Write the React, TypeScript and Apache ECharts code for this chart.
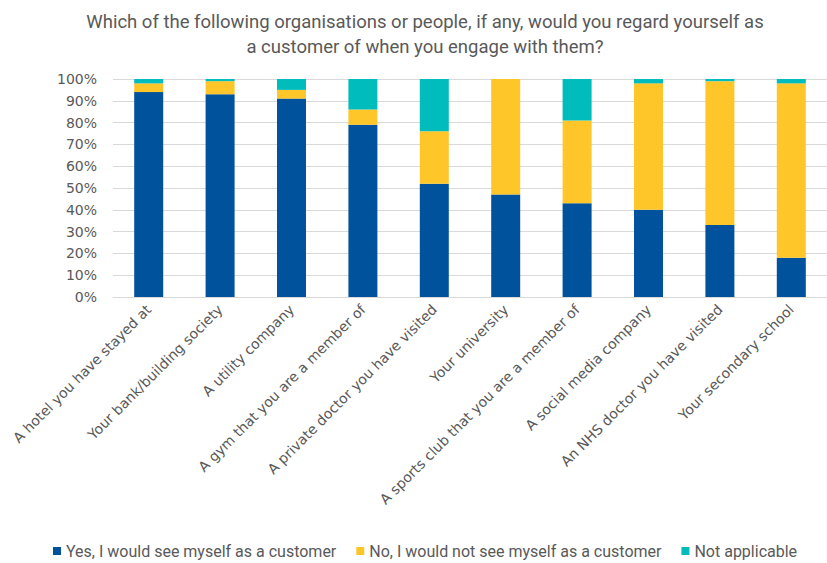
import React, { useEffect, useRef } from "react";
import * as echarts from "echarts";

const categories = [
  "A hotel you have stayed at",
  "Your bank/building society",
  "A utility company",
  "A gym that you are a member of",
  "A private doctor you have visited",
  "Your university",
  "A sports club that you are a member of",
  "A social media company",
  "An NHS doctor you have visited",
  "Your secondary school",
];
const yesValues = [94, 93, 91, 79, 52, 47, 43, 40, 33, 18];
const noValues = [4, 6, 4, 7, 24, 53, 38, 58, 66, 80];
const naValues = [2, 1, 5, 14, 24, 0, 19, 2, 1, 2];
const seriesNames = [
  "Yes, I would see myself as a customer",
  "No, I would not see myself as a customer",
  "Not applicable",
];
const titleLines = [
  "Which of the following organisations or people, if any, would you regard yourself as",
  "a customer of when you engage with them?",
];

const COLORS = ["#00529C", "#FFC629", "#00BCBC"];
const TEXT = "#595959";

export default function App() {
  const ref = useRef<HTMLDivElement>(null);
  useEffect(() => {
    if (!ref.current) return;
    const chart = echarts.init(ref.current, null, { renderer: "svg" });
    const data = [yesValues, noValues, naValues];
    chart.setOption({
      animation: false,
      graphic: [
        {
          type: "text",
          x: 425,
          y: 22,
          style: {
            text: titleLines[0],
            textAlign: "center",
            textVerticalAlign: "middle",
            fill: TEXT,
            font: "18.5px Roboto",
          },
        },
        {
          type: "text",
          x: 425,
          y: 47,
          style: {
            text: titleLines[1],
            textAlign: "center",
            textVerticalAlign: "middle",
            fill: TEXT,
            font: "18.5px Roboto",
          },
        },
      ],
      legend: {
        left: 53,
        top: 543,
        padding: 0,
        itemWidth: 8,
        itemHeight: 8,
        itemGap: 20,
        icon: "rect",
        textStyle: { color: TEXT, fontSize: 16, fontFamily: "Roboto" },
        data: seriesNames,
      },
      grid: { left: 113, top: 79, width: 723, bottom: 266, containLabel: false },
      xAxis: {
        type: "category",
        data: categories,
        axisLine: { lineStyle: { color: "#D9D9D9" } },
        axisTick: { show: false },
        axisLabel: {
          rotate: 45,
          interval: 0,
          color: TEXT,
          fontSize: 14,
          fontFamily: "DejaVu Sans",
          margin: 10,
        },
      },
      yAxis: {
        type: "value",
        min: 0,
        max: 100,
        interval: 10,
        axisLine: { show: false },
        axisTick: { show: false },
        splitLine: { lineStyle: { color: "#D9D9D9" } },
        axisLabel: {
          formatter: "{value}%",
          color: TEXT,
          fontSize: 14,
          fontFamily: "DejaVu Sans",
          margin: 16,
        },
      },
      series: seriesNames.map((name, i) => ({
        name,
        type: "bar",
        stack: "total",
        barWidth: 29,
        data: data[i],
        itemStyle: { color: COLORS[i] },
      })),
    });
    return () => chart.dispose();
  }, []);
  return (
    <div
      ref={ref}
      style={{ width: 827, height: 563, position: "absolute", left: 0, top: 0 }}
    />
  );
}
